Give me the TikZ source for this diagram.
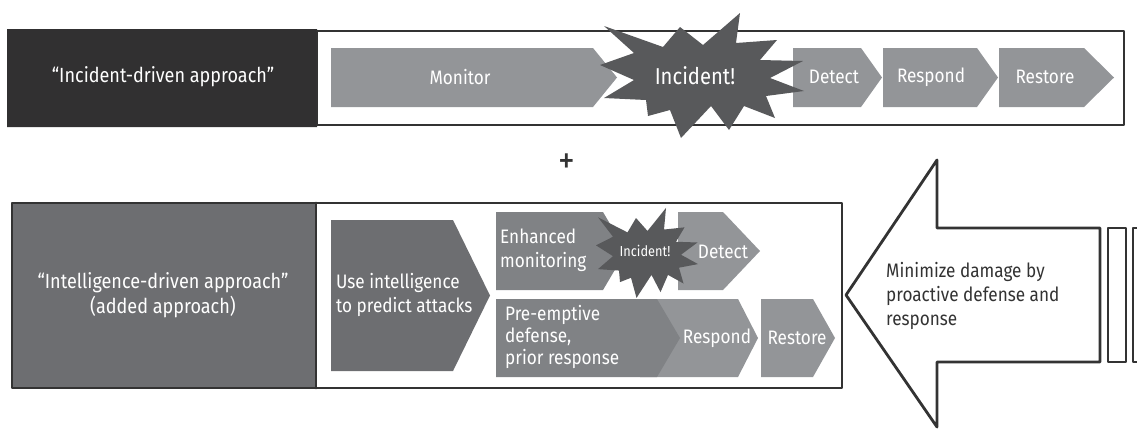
\documentclass[tikz,border=0pt]{standalone}
\usepackage{fontspec}
\setmainfont{Fira Sans}[FakeStretch=0.88]
\usepackage{tikz}
\usepackage{tkz-euclide}
\usetikzlibrary{calc}
\usetikzlibrary{positioning}
\definecolor{topdark}{HTML}{313031}
\definecolor{botdark}{HTML}{6D6E71}
\definecolor{midgray}{HTML}{808285}
\definecolor{chevgray}{HTML}{939598}
\definecolor{burstgray}{HTML}{58595B}
\definecolor{linegray}{HTML}{333333}

\begin{document}
\begin{tikzpicture}[%
  x=1pt, y=-1pt,
  txt/.style={text=white, inner sep=0pt, font=\fontsize{19.5}{24}\selectfont},
  boxline/.style={line width=2.8pt, color=linegray},
  burst/.pic={
    \fill[burstgray] (38,-64) -- (34,-34) -- (75,-37) -- (58,-17) -- (101,-16)
      -- (68,1) -- (102,14) -- (64,19) -- (73,41) -- (42,29) -- (27,53)
      -- (9,29) -- (-21,61) -- (-32,33) -- (-54,39) -- (-56,23) -- (-98,21)
      -- (-68,3) -- (-102,-12) -- (-68,-24) -- (-98,-51) -- (-39,-30)
      -- (-22,-50) -- (1,-32) -- cycle;
  },
]

  \useasboundingbox (0,0) rectangle (1137,429);

  % top row
  \tkzDefPoints{7/29/ta, 317/29/tb, 317/127/tc, 7/127/td}
  \tkzDefPoints{317/31/wa, 1124/31/wb, 1124/125/wc, 317/125/wd}
  \tkzFillPolygon[color=topdark](ta,tb,tc,td)
  \tkzDrawPolygon[boxline](wa,wb,wc,wd)

  \tkzDefPoints{331/48/mo1, 593/48/mo2, 617/77.5/mo3, 593/107/mo4, 331/107/mo5}
  \tkzDefPoints{793/48/de1, 861/48/de2, 882/77.5/de3, 861/107/de4, 793/107/de5}
  \tkzDefPoints{883/48/re1, 977/48/re2, 998/77.5/re3, 977/107/re4, 883/107/re5}
  \tkzDefPoints{999/48/rs1, 1084/48/rs2, 1114/77.5/rs3, 1084/107/rs4, 999/107/rs5}
  \tkzFillPolygon[color=chevgray](mo1,mo2,mo3,mo4,mo5)
  \tkzFillPolygon[color=chevgray](de1,de2,de3,de4,de5)
  \tkzFillPolygon[color=chevgray](re1,re2,re3,re4,re5)
  \tkzFillPolygon[color=chevgray](rs1,rs2,rs3,rs4,rs5)

  \pic at (702,77) {burst};

  \node[txt, font=\fontsize{20.5}{24}\selectfont] (incdriven) at (163,77) {“Incident-driven approach”};
  \node[txt] (monitor) at (460,77) {Monitor};
  \node[txt, font=\fontsize{23}{24}\selectfont] (incident) at (695,76) {Incident!};
  \node[txt] (detect) at (834,77) {Detect};
  \node[txt] (respond) at (931,77) {Respond};
  \node[txt] (restore) at (1045,77) {Restore};

  \node[text=linegray, font=\fontsize{38}{38}\selectfont] (plus) at (567,164) {+};

  % bottom row
  \tkzDefPoints{12/203/ba, 842/203/bb, 842/388/bc, 12/388/bd, 316/203/be, 316/388/bf}
  \tkzFillPolygon[color=botdark](ba,be,bf,bd)
  \tkzDrawPolygon[boxline](ba,bb,bc,bd)
  \tkzDrawSegment[boxline](be,bf)

  \tkzDefPoints{331/220/ui1, 453/220/ui2, 490/295.5/ui3, 453/371/ui4, 331/371/ui5}
  \tkzDefPoints{496/212/em1, 603/212/em2, 626/251/em3, 603/290/em4, 496/290/em5}
  \tkzDefPoints{678/212/dd1, 723/212/dd2, 760/251/dd3, 723/290/dd4, 678/290/dd5}
  \tkzDefPoints{640/299/rp1, 738/299/rp2, 758/338/rp3, 738/377/rp4, 640/377/rp5}
  \tkzDefPoints{496/299/pe1, 657/299/pe2, 680/338/pe3, 657/377/pe4, 496/377/pe5}
  \tkzDefPoints{761/299/rr1, 813/299/rr2, 835/338/rr3, 813/377/rr4, 761/377/rr5}
  \tkzFillPolygon[color=botdark](ui1,ui2,ui3,ui4,ui5)
  \tkzFillPolygon[color=midgray](em1,em2,em3,em4,em5)
  \tkzFillPolygon[color=chevgray](dd1,dd2,dd3,dd4,dd5)
  \tkzFillPolygon[color=chevgray](rp1,rp2,rp3,rp4,rp5)
  \tkzFillPolygon[color=midgray](pe1,pe2,pe3,pe4,pe5)
  \tkzFillPolygon[color=chevgray](rr1,rr2,rr3,rr4,rr5)
  % \tkzDrawPoints(ui3,em3,dd3,rp3,pe3,rr3)

  \pic[xscale=0.5, yscale=0.72] at (647,254) {burst};

  \node[txt, align=center, font=\fontsize{20.5}{25}\selectfont] (intdriven) at (163,295) {“Intelligence-driven approach”\\(added approach)};
  \node[txt, align=left, anchor=west] (useint) at (336,295) {Use intelligence\\to predict attacks};
  \node[txt, align=left, anchor=west] (enhmon) at (500,250) {Enhanced\\monitoring};
  \node[txt, font=\fontsize{14.5}{16}\selectfont] (incident2) at (645,251) {Incident!};
  \node[txt] (detect2) at (723,252) {Detect};
  \node[txt, align=left, anchor=west, font=\fontsize{19.5}{22}\selectfont] (preempt) at (505,337) {Pre-emptive\\defense,\\prior response};
  \node[txt] (respond2) at (717,338) {Respond};
  \node[txt] (restore2) at (797,338) {Restore};

  % big arrow
  \tkzDefPoints{846/295/ar1, 937/160/ar2, 937/228/ar3, 1100/228/ar4, 1100/362/ar5, 937/362/ar6, 937/427/ar7}
  \tkzDefPoints{1108/228/ba1, 1126/228/ba2, 1126/362/ba3, 1108/362/ba4}
  \tkzDefPoints{1133/228/bb1, 1150/228/bb2, 1150/362/bb3, 1133/362/bb4}
  \tkzDrawPolygon[boxline, fill=white](ar1,ar2,ar3,ar4,ar5,ar6,ar7)
  \tkzDrawPolygon[boxline](ba1,ba2,ba3,ba4)
  \tkzDrawPolygon[boxline](bb1,bb2,bb3,bb4)

  \node[text=linegray, inner sep=0pt, align=left, anchor=west, font=\fontsize{19.5}{24}\selectfont] (minimize) at (886,296) {Minimize damage by\\proactive defense and\\response};

\end{tikzpicture}
\end{document}
